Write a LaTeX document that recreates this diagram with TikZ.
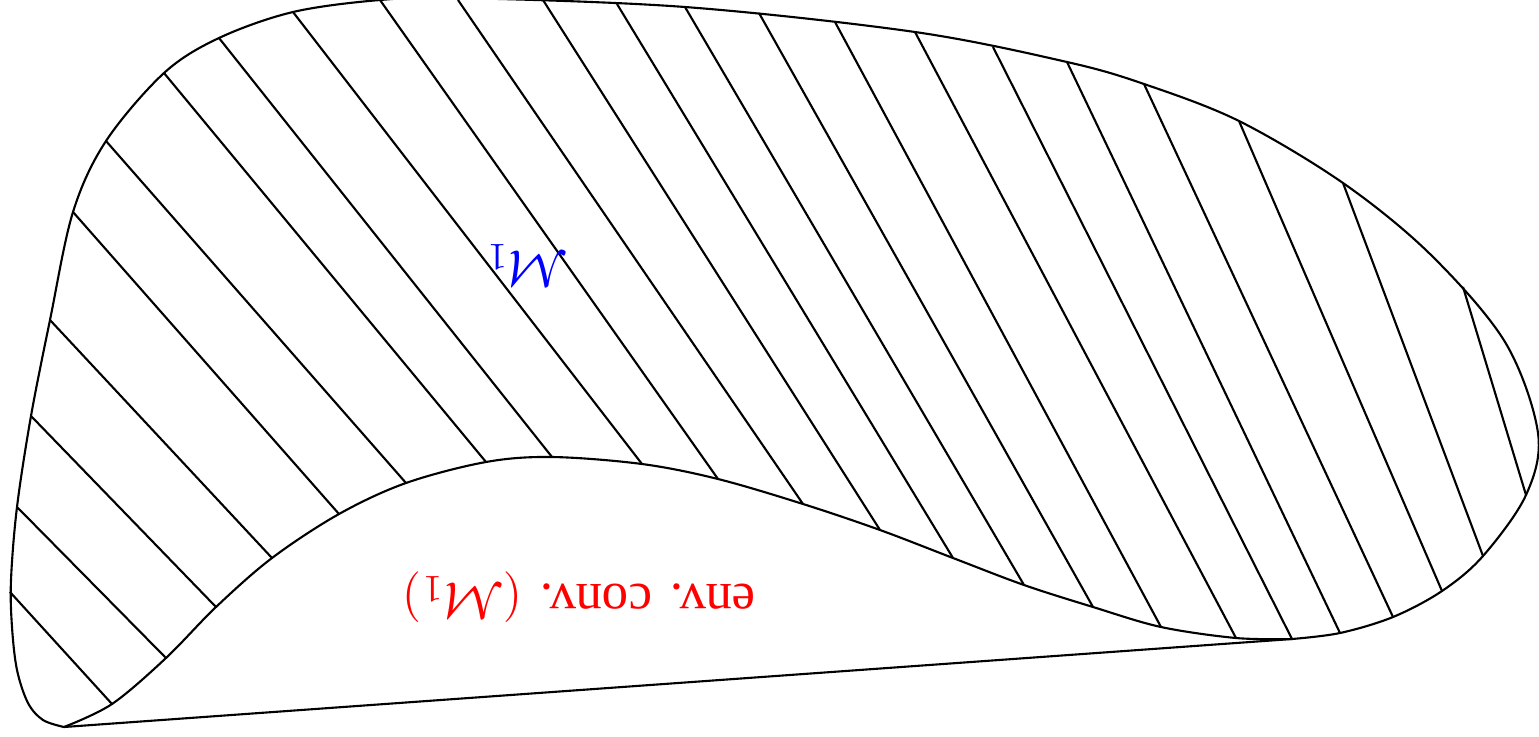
\documentclass[tikz,border=0pt]{standalone}
\usepackage{fontspec}
\setmainfont{Liberation Serif}
\begin{document}
\begin{tikzpicture}[x=0.01cm,y=-0.01cm,line width=0.6pt]
    \useasboundingbox (0,0) rectangle (1539,736);
    \clip (0,0) rectangle (1539,736);
    \coordinate (corner) at (64,727);
    \coordinate (touch) at (1292,639);
    \draw plot[smooth,tension=0.55] coordinates {
        (corner) (43,720) (28,703) (17,670) (12,627) (11,580) (17,507)
        (31,416) (50,320) (73,212) (106,141) (164,73) (219,38) (293,12)
        (380,0) (460,-2) (685,7) (915,32) (1067,62) (1144,84) (1239,121)
        (1343,183) (1430,254) (1505,342) (1538,433) (1526,495) (1483,556)
        (1442,591) (1393,617) (1340,633) (touch)} -- (corner);
    \draw plot[smooth,tension=0.55] coordinates {
        (corner) (112,704) (166,658) (216,607) (272,558) (339,514)
        (406,483) (486,462) (552,457) (642,464) (718,479) (803,504)
        (880,530) (953,558) (1024,585) (1093,607) (1161,627) (1236,638)
        (touch)};
    \foreach \xa/\ya/\xb/\yb in {
        10/592/112/704, 17/507/166/658, 31/416/216/607, 50/320/272/558,
        73/212/339/514, 106/141/406/483, 164/73/486/462, 219/38/552/457,
        293/12/642/464, 380/0/718/479, 458/0/803/504, 543/0/880/530,
        617/4/953/558, 685/7/1024/585, 759/13/1093/607, 835/22/1161/627,
        915/32/1236/638, 993/47/1292/639, 1067/62/1340/633,
        1144/84/1393/617, 1239/121/1442/591, 1343/183/1483/556,
        1463/287/1526/495}
        \draw (\xa,\ya) -- (\xb,\yb);
    \node[red,rotate=180,font=\fontsize{15}{18}\selectfont] (hull) at (579,597)
        {env. conv. $(\mathcal{M}_1)$};
    \node[blue,rotate=180,font=\fontsize{15}{18}\selectfont] (set) at (527,266)
        {$\mathcal{M}_1$};
\end{tikzpicture}
\end{document}
